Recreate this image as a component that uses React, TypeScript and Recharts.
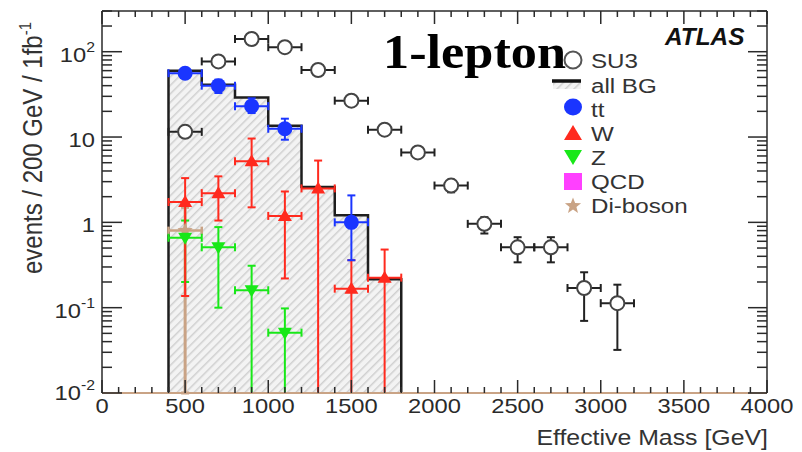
import React from 'react';
import { ComposedChart, Area, Scatter, ErrorBar, XAxis, YAxis } from 'recharts';

// ---- data (events / 200 GeV / 1 fb^-1, bin centres in GeV) ----
const su3Mass = [500, 700, 900, 1100, 1300, 1500, 1700, 1900, 2100, 2300, 2500, 2700, 2900, 3100];
const su3Events = [11.5, 77, 141, 113, 61, 26.7, 12.2, 6.6, 2.7, 0.96, 0.51, 0.51, 0.17, 0.113];
const su3Low = [10.4, 72, 134, 107, 57, 24.5, 10.9, 5.8, 2.25, 0.74, 0.34, 0.34, 0.07, 0.032];
const su3High = [12.6, 82, 148, 119, 65, 29, 13.5, 7.4, 3.15, 1.15, 0.67, 0.67, 0.26, 0.186];

// all-background histogram: lower bin edges and contents
const bgEdges = [400, 600, 800, 1000, 1200, 1400, 1600];
const bgEvents = [60, 41, 29, 13.6, 2.6, 1.21, 0.215];
const bgUpperEdge = 1800;

const ttMass = [500, 700, 900, 1100, 1500];
const ttEvents = [56, 40, 23, 12.5, 1.0];
const ttLow = [51, 32.8, 19.1, 9.3, 0.36];
const ttHigh = [61, 47, 28.4, 16.4, 2.07];

const wMass = [500, 700, 900, 1100, 1300, 1500, 1700];
const wEvents = [1.73, 2.2, 5.2, 1.19, 2.5, 0.167, 0.225];
const wLow = [0.137, 1.05, 1.5, 0.22, 0.01, 0.01, 0.01];
const wHigh = [3.3, 3.46, 9.6, 2.3, 5.3, 0.36, 0.48];

const zMass = [500, 700, 900, 1100];
const zEvents = [0.66, 0.51, 0.16, 0.051];
const zLow = [0.2, 0.1, 0.01, 0.01];
const zHigh = [1.05, 0.88, 0.31, 0.098];

const qcdMass = [500];
const qcdEvents = [0.01];

const dibosonMass = [500];
const dibosonEvents = [0.8];
const dibosonLow = [0.01];
const dibosonHigh = [1.5];

const halfBin = 100;

// ---- axes ----
const xMajorTicks = [0, 500, 1000, 1500, 2000, 2500, 3000, 3500, 4000];
const yMajorTicks = [0.01, 0.1, 1, 10, 100];
const yMin = 0.01;
const yMax = 300;

const xAllTicks: number[] = [];
for (let v = 0; v <= 4000; v += 100) xAllTicks.push(v);
const yAllTicks: number[] = [];
for (const d of yMajorTicks) {
  for (let k = 1; k <= 9; k++) {
    const v = +(d * k).toPrecision(3);
    if (v <= yMax) yAllTicks.push(v);
  }
}

// ---- tables built from the arrays ----
const bgTable = [
  { x: bgEdges[0], bg: yMin },
  ...bgEdges.map((e, i) => ({ x: e, bg: bgEvents[i] })),
  { x: bgUpperEdge, bg: yMin },
];

const withErrors = (mass: number[], ev: number[], lo: number[], hi: number[]) =>
  mass.map((m, i) => ({ x: m, y: ev[i], ex: halfBin, ey: [ev[i] - lo[i], hi[i] - ev[i]] }));

const su3Rows = withErrors(su3Mass, su3Events, su3Low, su3High);
const ttRows = withErrors(ttMass, ttEvents, ttLow, ttHigh);
const wRows = withErrors(wMass, wEvents, wLow, wHigh);
const zRows = withErrors(zMass, zEvents, zLow, zHigh);
const dibosonRows = withErrors(dibosonMass, dibosonEvents, dibosonLow, dibosonHigh);
const qcdRows = qcdMass.map((m, i) => ({ x: m, y: qcdEvents[i], ex: halfBin }));

// ---- styling ----
const INK = '#2a2a2a';
const TEXT = '#333333';
const SANS = '"Liberation Sans", Arial, Helvetica, sans-serif';
const SERIF = '"Liberation Serif", "Times New Roman", serif';
const SX = 1.13;

const C_TT = '#1a35ff';
const C_W = '#ff2a1e';
const C_Z = '#18e818';
const C_QCD = '#ff40ff';
const C_DB = '#c9a385';

const isMajorX = (v: number) => xMajorTicks.includes(v);
const isMajorY = (v: number) => yMajorTicks.some((m) => Math.abs(m - v) < 1e-9);

function LogLabel({ value }: { value: number }) {
  const e = Math.round(Math.log10(value));
  if (e === 0) return <>1</>;
  if (e === 1) return <>10</>;
  return (
    <>
      10
      <tspan dy={-10} fontSize={14}>
        {e}
      </tspan>
    </>
  );
}

function BottomTick(props: any) {
  const { x, y, payload } = props;
  const v = payload.value;
  const major = isMajorX(v);
  return (
    <g>
      <line x1={x} x2={x} y1={y} y2={y - (major ? 13 : 6)} stroke={INK} strokeWidth={1.5} />
      {major && (
        <text
          transform={`translate(${x} ${y + 20}) scale(${SX} 1)`}
          textAnchor="middle"
          fontSize={21}
          fontFamily={SANS}
          fill={INK}
        >
          {v}
        </text>
      )}
    </g>
  );
}

function TopTick(props: any) {
  const { x, y, payload } = props;
  const major = isMajorX(payload.value);
  return <line x1={x} x2={x} y1={y} y2={y + (major ? 13 : 6)} stroke={INK} strokeWidth={1.5} />;
}

function LeftTick(props: any) {
  const { x, y, payload } = props;
  const v = payload.value;
  const major = isMajorY(v);
  const dy = v === yMin ? 7 : 10;
  return (
    <g>
      <line x1={x} x2={x + (major ? 20 : 10)} y1={y} y2={y} stroke={INK} strokeWidth={1.5} />
      {major && (
        <text
          transform={`translate(${x - 7} ${y + dy}) scale(${SX} 1)`}
          textAnchor="end"
          fontSize={21}
          fontFamily={SANS}
          fill={INK}
        >
          <LogLabel value={v} />
        </text>
      )}
    </g>
  );
}

function RightTick(props: any) {
  const { x, y, payload } = props;
  const major = isMajorY(payload.value);
  return <line x1={x} x2={x - (major ? 19 : 10)} y1={y} y2={y} stroke={INK} strokeWidth={1.5} />;
}

// ---- marker shapes ----
const OpenCircle = (p: any) => <circle cx={p.cx} cy={p.cy} r={7} fill="#ffffff" stroke="#444" strokeWidth={2} />;
const BlueDot = (p: any) => <circle cx={p.cx} cy={p.cy} r={7.5} fill={C_TT} />;
const UpTri = (p: any) => (
  <polygon points={`${p.cx - 7},${p.cy + 5} ${p.cx + 7},${p.cy + 5} ${p.cx},${p.cy - 7}`} fill={C_W} />
);
const DownTri = (p: any) => (
  <polygon points={`${p.cx - 7},${p.cy - 5} ${p.cx + 7},${p.cy - 5} ${p.cx},${p.cy + 7}`} fill={C_Z} />
);
const starPoints = (cx: number, cy: number, ro: number, ri: number) => {
  const pts: string[] = [];
  for (let i = 0; i < 10; i++) {
    const r = i % 2 === 0 ? ro : ri;
    const a = -Math.PI / 2 + (i * Math.PI) / 5;
    pts.push(`${cx + r * Math.cos(a)},${cy + r * Math.sin(a)}`);
  }
  return pts.join(' ');
};
const Star = (p: any) => <polygon points={starPoints(p.cx, p.cy, 8, 3.5)} fill={C_DB} />;
const Nothing = () => <g />;

function Legend() {
  const tx = 591;
  const mx = 573;
  const label = (y: number, s: string) => (
    <text transform={`translate(${tx} ${y}) scale(1.15 1)`} fontSize={21} fontFamily={SANS} fill={TEXT}>
      {s}
    </text>
  );
  return (
    <g>
      <circle cx={mx} cy={60} r={8.5} fill="#fff" stroke="#555" strokeWidth={2} />
      {label(68, 'SU3')}
      <rect x={553} y={80} width={28} height={9} fill="url(#bgHatch)" />
      <line x1={552} x2={581} y1={81} y2={81} stroke="#111" strokeWidth={3.5} />
      {label(93, 'all BG')}
      <ellipse cx={mx} cy={107} rx={9} ry={8.5} fill={C_TT} />
      {label(117, 'tt')}
      <polygon points={`${mx - 9},${140} ${mx + 9},${140} ${mx},${125}`} fill={C_W} />
      {label(141, 'W')}
      <polygon points={`${mx - 9},${150} ${mx + 9},${150} ${mx},${165}`} fill={C_Z} />
      {label(165, 'Z')}
      <rect x={mx - 9} y={173} width={18} height={17} fill={C_QCD} />
      {label(189, 'QCD')}
      <polygon points={starPoints(mx, 206, 8.5, 3.6)} fill={C_DB} />
      {label(213, 'Di-boson')}
    </g>
  );
}

function Decorations() {
  return (
    <g>
      <Legend />
      <text
        transform="translate(383 68) scale(1.09 1)"
        fontFamily={SERIF}
        fontWeight="bold"
        fontSize={48}
        fill="#000"
      >
        1-lepton
      </text>
      <text
        transform="translate(665 45) scale(1.06 1)"
        fontFamily={SANS}
        fontWeight="bold"
        fontStyle="italic"
        fontSize={23}
        fill="#111"
      >
        ATLAS
      </text>
      <text
        transform={`translate(768 445) scale(${SX} 1)`}
        textAnchor="end"
        fontFamily={SANS}
        fontSize={22}
        fill={TEXT}
      >
        Effective Mass [GeV]
      </text>
      <text
        transform="translate(42 148) rotate(-90) scale(1 1.13)"
        textAnchor="middle"
        fontFamily={SANS}
        fontSize={24}
        fill={TEXT}
      >
        events / 200 GeV / 1fb
        <tspan dy={-10} fontSize={15}>
          -1
        </tspan>
      </text>
    </g>
  );
}

const errProps = { strokeWidth: 2, width: 4 };

export default function App() {
  return (
    <div style={{ position: 'absolute', left: 0, top: 0, width: 802, height: 452, background: '#fff' }}>
      <ComposedChart width={802} height={452} data={bgTable} margin={{ top: 0, right: 0, bottom: 0, left: 0 }}>
        <defs>
          <pattern id="bgHatch" width={6} height={6} patternUnits="userSpaceOnUse" patternTransform="rotate(45)">
            <rect width={6} height={6} fill="#f3f3f3" />
            <rect x={0} y={0} width={1.5} height={6} fill="#d0d0d0" />
          </pattern>
        </defs>
        <XAxis
          dataKey="x"
          type="number"
          domain={[0, 4000]}
          allowDataOverflow
          ticks={xAllTicks}
          interval={0}
          height={59}
          tickSize={0}
          tickMargin={0}
          tick={<BottomTick />}
          axisLine={{ stroke: C_DB, strokeWidth: 2 }}
          tickLine={false}
        />
        <XAxis
          xAxisId="top"
          orientation="top"
          dataKey="x"
          type="number"
          domain={[0, 4000]}
          allowDataOverflow
          ticks={xAllTicks}
          interval={0}
          height={11}
          tickSize={0}
          tickMargin={0}
          tick={<TopTick />}
          axisLine={{ stroke: INK, strokeWidth: 1.5 }}
          tickLine={false}
        />
        <YAxis
          scale="log"
          type="number"
          domain={[yMin, yMax]}
          allowDataOverflow
          ticks={yAllTicks}
          interval={0}
          width={102}
          tickSize={0}
          tickMargin={0}
          tick={<LeftTick />}
          axisLine={{ stroke: INK, strokeWidth: 1.5 }}
          tickLine={false}
        />
        <YAxis
          yAxisId="right"
          orientation="right"
          scale="log"
          type="number"
          domain={[yMin, yMax]}
          allowDataOverflow
          ticks={yAllTicks}
          interval={0}
          width={35}
          tickSize={0}
          tickMargin={0}
          tick={<RightTick />}
          axisLine={{ stroke: INK, strokeWidth: 1.5 }}
          tickLine={false}
        />
        <Area
          dataKey="bg"
          type="stepAfter"
          baseValue={yMin}
          fill="url(#bgHatch)"
          fillOpacity={1}
          stroke="#1e1e1e"
          strokeWidth={2.5}
          isAnimationActive={false}
          dot={false}
          activeDot={false}
        />
        <Scatter data={dibosonRows} dataKey="y" shape={Star} isAnimationActive={false}>
          <ErrorBar dataKey="ey" direction="y" stroke={C_DB} strokeWidth={3} width={4} />
          <ErrorBar dataKey="ex" direction="x" stroke={C_DB} strokeWidth={2.5} width={4} />
        </Scatter>
        <Scatter data={zRows} dataKey="y" shape={DownTri} isAnimationActive={false}>
          <ErrorBar dataKey="ey" direction="y" stroke={C_Z} {...errProps} />
          <ErrorBar dataKey="ex" direction="x" stroke={C_Z} {...errProps} />
        </Scatter>
        <Scatter data={wRows} dataKey="y" shape={UpTri} isAnimationActive={false}>
          <ErrorBar dataKey="ey" direction="y" stroke={C_W} {...errProps} />
          <ErrorBar dataKey="ex" direction="x" stroke={C_W} {...errProps} />
        </Scatter>
        <Scatter data={ttRows} dataKey="y" shape={BlueDot} isAnimationActive={false}>
          <ErrorBar dataKey="ey" direction="y" stroke={C_TT} {...errProps} />
          <ErrorBar dataKey="ex" direction="x" stroke={C_TT} {...errProps} />
        </Scatter>
        <Scatter data={su3Rows} dataKey="y" shape={OpenCircle} isAnimationActive={false}>
          <ErrorBar dataKey="ey" direction="y" stroke="#222" {...errProps} />
          <ErrorBar dataKey="ex" direction="x" stroke="#222" {...errProps} />
        </Scatter>
        <Scatter data={qcdRows} dataKey="y" shape={Nothing} isAnimationActive={false}>
          <ErrorBar dataKey="ex" direction="x" stroke={C_QCD} strokeWidth={2} width={0} />
        </Scatter>
        <Decorations />
      </ComposedChart>
    </div>
  );
}
